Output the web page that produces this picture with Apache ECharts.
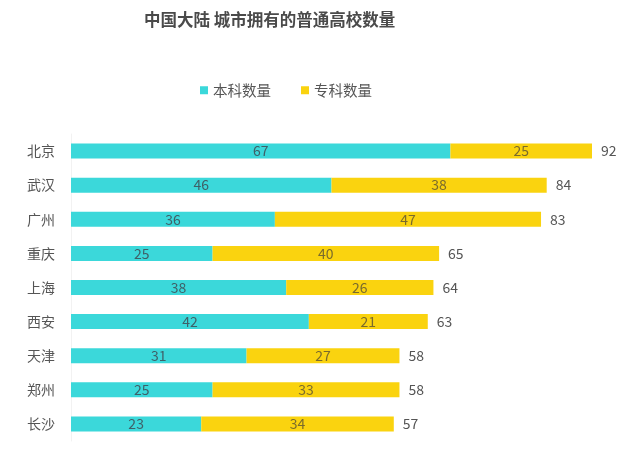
<!DOCTYPE html>
<html><head><meta charset="utf-8">
<script src="https://cdn.jsdelivr.net/npm/echarts@6/dist/echarts.min.js"></script>
<style>html,body{margin:0;padding:0;background:#fff}#c{width:640px;height:456px}</style>
</head><body><div id="c"></div>
<script>
const cities = ['北京','武汉','广州','重庆','上海','西安','天津','郑州','长沙'];
const undergrad = [67,46,36,25,38,42,31,25,23];
const college = [25,38,47,40,26,21,27,33,34];
const totals = [92,84,83,65,64,63,58,58,57];
const font = '"Noto Sans CJK SC", sans-serif';
const chart = echarts.init(document.getElementById('c'));
chart.setOption({
  backgroundColor:'#fff',
  animation:false,
  textStyle:{fontFamily:font},
  title:{text:'中国大陆 城市拥有的普通高校数量', left:139, top:6,
    textStyle:{fontFamily:font, fontSize:16.5, fontWeight:'bold', color:'#4a4a4a'}},
  legend:{data:['本科数量','专科数量'], left:195, top:78, itemWidth:8, itemHeight:8, itemGap:30, icon:'rect',
    textStyle:{fontFamily:font, fontSize:14.5, color:'#555'}},
  grid:{left:71, top:134, width:521, height:307, containLabel:false},
  xAxis:{type:'value', min:0, max:92, show:false},
  yAxis:{type:'category', data:cities, inverse:true,
    axisLine:{show:true, lineStyle:{color:'#f2f2f2'}}, axisTick:{show:false},
    axisLabel:{fontFamily:font, fontSize:14, color:'#555', margin:16}},
  series:[
    {name:'本科数量', type:'bar', stack:'t', data:undergrad, barWidth:15,
     itemStyle:{color:'#3BD8DA'},
     label:{show:true, position:'inside', fontFamily:font, fontSize:14, color:'#3f6068'}},
    {name:'专科数量', type:'bar', stack:'t', data:college, barWidth:15,
     itemStyle:{color:'#FAD30F'},
     label:{show:true, position:'inside', fontFamily:font, fontSize:14, color:'#7a6b2c'}},
    {name:'合计', type:'bar', stack:'t', data:totals.map(()=>0), barWidth:15,
     itemStyle:{color:'transparent'},
     label:{show:true, position:'right', distance:9, fontFamily:font, fontSize:14, color:'#555',
       formatter:p=>totals[p.dataIndex]}}
  ]
});
</script></body></html>
